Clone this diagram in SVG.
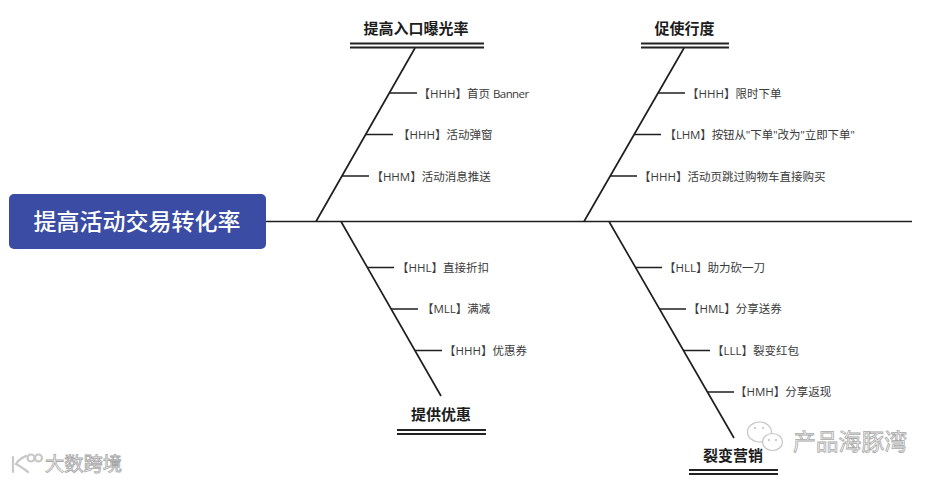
<svg xmlns="http://www.w3.org/2000/svg" width="937" height="482" viewBox="0 0 937 482">
<style>
.l{stroke:#1f1f1f;stroke-width:1.7;fill:none}
.d{stroke:#222;stroke-width:1.8;fill:none}
text{font-family:"Open Sans","Noto Sans CJK SC",sans-serif}
.s{font-size:11.5px;fill:#3a3a3a}
.t{font-size:15px;font-weight:700;fill:#1c1c1c;text-anchor:middle}
.w{font-weight:400;fill:#fff;stroke:#a8a8a8;stroke-width:.8}
.i{fill:#fff;stroke:#c4c4c4;stroke-width:1.2}
.e{fill:#bbb}
.k{fill:none;stroke:#c8c8c8;stroke-width:2.2;stroke-linecap:round}
</style>
<rect width="937" height="482" fill="#fff"/>
<g id="connectors">
<path class="l" d="M266 221.500H912M316 221.500L415 48M584 221.500L684 48M341 221.500L441 396M609 221.500L734 438"/>
<path class="l" d="M390 93H417M366 134.500H393M342 176H369M658 93H685M634 134.500H661M610 176H637M367 267.500H394M391 309H418M415 350.500H442M635 267.500H662M659 309H686M683 350.500H710M707 392H734"/>
<path class="d" d="M350 43.500H484M350 47.500H484M641 43.500H729M641 47.500H729M397 430H486M397 434H486M689 470H778M689 474H778"/>
</g>
<g id="root"><rect x="9" y="194" width="257" height="55" rx="5" fill="#3a4ca3"/><text x="137" y="230" font-size="23" font-weight="500" fill="#fff" text-anchor="middle">提高活动交易转化率</text></g>
<g id="cat1"><text class="t" x="416" y="33.500">提高入口曝光率</text></g>
<g id="cat2"><text class="t" x="684.500" y="33.500">促使行度</text></g>
<g id="cat3"><text class="t" x="441" y="419.500">提供优惠</text></g>
<g id="cat4"><text class="t" x="733" y="460.500">裂变营销</text></g>
<g id="n1"><text class="s" x="418.600" y="97.500">【HHH】首页 <tspan letter-spacing="-.6">Banner</tspan></text></g>
<g id="n2"><text class="s" x="398" y="139">【HHH】活动弹窗</text></g>
<g id="n3"><text class="s" x="371.400" y="180.500">【HHM】活动消息推送</text></g>
<g id="n4"><text class="s" x="687" y="97.500">【HHH】限时下单</text></g>
<g id="n5"><text class="s" x="664.500" y="139" letter-spacing="-.12">【LHM】按钮从"下单"改为"立即下单"</text></g>
<g id="n6"><text class="s" x="639" y="180.500">【HHH】活动页跳过购物车直接购买</text></g>
<g id="n7"><text class="s" x="397" y="272">【HHL】直接折扣</text></g>
<g id="n8"><text class="s" x="422" y="313">【MLL】满减</text></g>
<g id="n9"><text class="s" x="444" y="355">【HHH】优惠券</text></g>
<g id="n10"><text class="s" x="664" y="272">【HLL】助力砍一刀</text></g>
<g id="n11"><text class="s" x="688" y="313">【HML】分享送券</text></g>
<g id="n12"><text class="s" x="712" y="355">【LLL】裂变红包</text></g>
<g id="n13"><text class="s" x="735" y="396">【HMH】分享返现</text></g>
<g id="wm">
<ellipse class="i" cx="759.500" cy="432" rx="12" ry="10"/>
<ellipse class="i" cx="772.500" cy="442" rx="10" ry="8.500"/>
<circle class="e" cx="755" cy="428" r="1"/><circle class="e" cx="763" cy="428" r="1"/><circle class="e" cx="769" cy="440" r="1"/><circle class="e" cx="776" cy="440" r="1"/>
<path class="k" d="M13 457V472M26 456C19 459 17 462 16 464C20 466 24 469 28 472"/>
<circle class="k" cx="31" cy="458" r="3.500"/><circle class="k" cx="38.500" cy="458" r="3.500"/>
<text class="w" x="793" y="449.500" font-size="22.800">产品海豚湾</text>
<text class="w" x="45" y="471" font-size="19.300">大数跨境</text>
</g>
</svg>
